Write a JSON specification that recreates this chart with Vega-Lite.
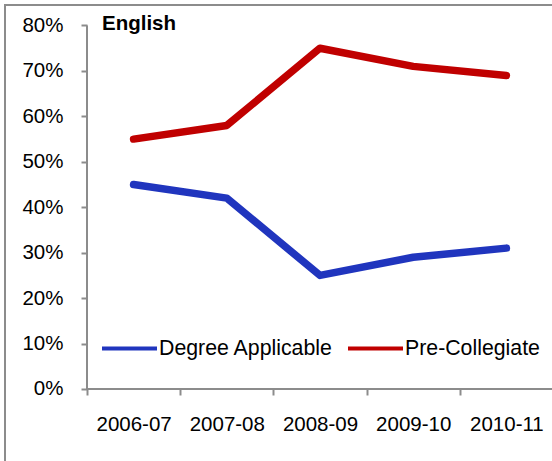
{
  "$schema": "https://vega.github.io/schema/vega-lite/v6.json",
  "width": 548,
  "height": 465,
  "autosize": "none",
  "padding": {"left": 5, "top": 5, "right": 0, "bottom": 0},
  "title": {"text": "English", "anchor": "start", "frame": "group", "dx": 97, "offset": -29, "fontSize": 20.5, "font": "Liberation Sans", "fontWeight": "bold", "color": "black"},
  "config": {
    "view": {"stroke": "#8c8c8c", "strokeWidth": 2},
    "font": "Liberation Sans"
  },
  "layer": [
    {
      "data": {"values": [
        {"year": "2006-07", "series": "Degree Applicable", "value": 0.45},
        {"year": "2007-08", "series": "Degree Applicable", "value": 0.42},
        {"year": "2008-09", "series": "Degree Applicable", "value": 0.25},
        {"year": "2009-10", "series": "Degree Applicable", "value": 0.29},
        {"year": "2010-11", "series": "Degree Applicable", "value": 0.31},
        {"year": "2006-07", "series": "Pre-Collegiate", "value": 0.55},
        {"year": "2007-08", "series": "Pre-Collegiate", "value": 0.58},
        {"year": "2008-09", "series": "Pre-Collegiate", "value": 0.75},
        {"year": "2009-10", "series": "Pre-Collegiate", "value": 0.71},
        {"year": "2010-11", "series": "Pre-Collegiate", "value": 0.69}
      ]},
      "mark": {"type": "line", "strokeWidth": 7.5, "strokeCap": "round", "strokeJoin": "round"},
      "encoding": {
        "x": {
          "field": "year", "type": "ordinal",
          "scale": {"type": "band", "domain": ["2006-07", "2007-08", "2008-09", "2009-10", "2010-11"], "paddingInner": 0, "paddingOuter": 0.4399, "align": 1},
          "axis": {"title": null, "offset": -81, "tickBand": "extent", "domain": false, "grid": false, "ticks": true, "tickSize": 6, "tickWidth": 2, "tickColor": "#8c8c8c", "labelAngle": 0, "labelPadding": 19, "labelFontSize": 20.5, "labelColor": "black", "labelFont": "Liberation Sans"}
        },
        "y": {
          "field": "value", "type": "quantitative",
          "scale": {"domain": [-0.17827, 0.8451], "nice": false, "zero": false},
          "axis": {"title": null, "offset": -82, "values": [0, 0.1, 0.2, 0.3, 0.4, 0.5, 0.6, 0.7, 0.8], "format": ".0%", "domain": false, "grid": false, "tickSize": 6, "tickWidth": 2, "tickColor": "#8c8c8c", "labelPadding": 18, "labelFontSize": 20.5, "labelColor": "black", "labelFont": "Liberation Sans"}
        },
        "color": {
          "field": "series", "type": "nominal",
          "scale": {"domain": ["Degree Applicable", "Pre-Collegiate"], "range": ["#2035be", "#c00000"]},
          "legend": {"orient": "none", "legendX": 95, "legendY": 314, "direction": "horizontal", "title": null, "symbolType": "stroke", "symbolSize": 3025, "symbolStrokeWidth": 4, "labelFontSize": 21.3, "labelColor": "black", "labelOffset": 0, "labelLimit": 400, "columnPadding": 6, "padding": 0, "labelFont": "Liberation Sans"}
        }
      }
    },
    {
      "data": {"values": [{"year": "2006-07", "value": 0, "value2": 0.8}]},
      "mark": {"type": "rule", "color": "#8c8c8c", "strokeWidth": 2},
      "encoding": {
        "x": {"field": "year", "type": "ordinal", "bandPosition": 0},
        "y": {"field": "value", "type": "quantitative"},
        "y2": {"field": "value2"}
      }
    },
    {
      "data": {"values": [{"year": "2006-07", "value": 0}]},
      "mark": {"type": "rule", "color": "#8c8c8c", "strokeWidth": 2},
      "encoding": {
        "x": {"field": "year", "type": "ordinal", "bandPosition": 0},
        "x2": {"value": "width"},
        "y": {"field": "value", "type": "quantitative"}
      }
    }
  ]
}
